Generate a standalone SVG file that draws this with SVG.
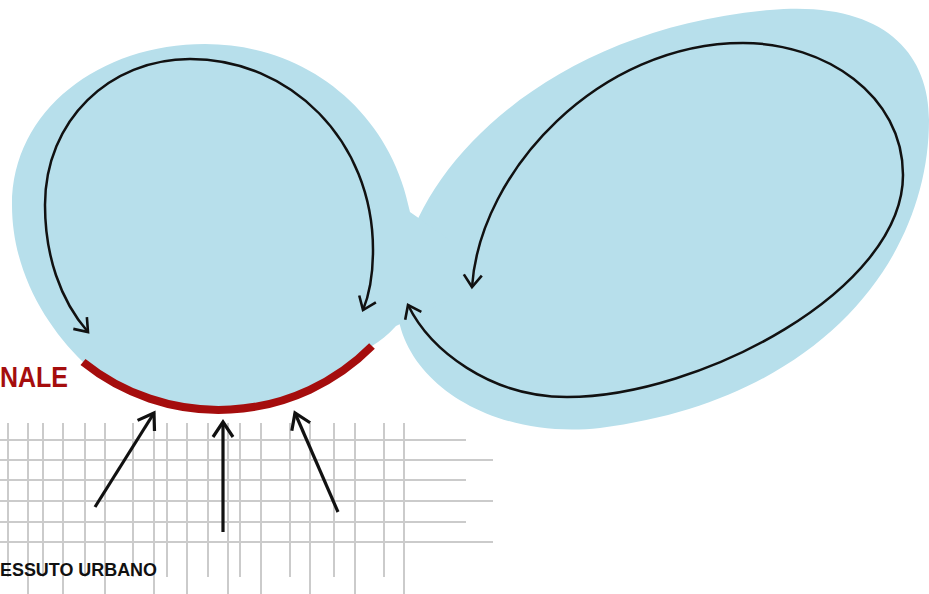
<svg xmlns="http://www.w3.org/2000/svg" width="929" height="594" viewBox="0 0 929 594">
<style>
.blob{fill:#b7dfeb;stroke:none}
.grid line{stroke:#cbcbcb;stroke-width:2}
.loop{fill:none;stroke:#111;stroke-width:2.5;marker-start:url(#ah);marker-end:url(#ah)}
.push{fill:none;stroke:#111;stroke-width:3.2;marker-end:url(#ah2)}
.lbl{font-family:"Liberation Sans",Arial,sans-serif;font-weight:bold}
</style>
<defs>
<marker id="ah" viewBox="-16 -16 32 32" markerWidth="32" markerHeight="32" refX="0" refY="0" orient="auto-start-reverse" markerUnits="userSpaceOnUse">
<path d="M-12,-9 L0,0 L-12,9" fill="none" stroke="#111" stroke-width="2.6" stroke-linejoin="miter"/>
</marker>
<marker id="ah2" viewBox="-20 -20 40 40" markerWidth="40" markerHeight="40" refX="0" refY="0" orient="auto" markerUnits="userSpaceOnUse">
<path d="M-15,-10 L0,0 L-15,10" fill="none" stroke="#111" stroke-width="3.2"/>
</marker>
</defs>
<rect width="929" height="594" fill="#ffffff"/>
<g id="grid" class="grid">
<line x1="0" y1="440" x2="466" y2="440"/>
<line x1="0" y1="460" x2="493" y2="460"/>
<line x1="0" y1="480" x2="466" y2="480"/>
<line x1="0" y1="501" x2="493" y2="501"/>
<line x1="0" y1="522" x2="466" y2="522"/>
<line x1="0" y1="542" x2="493" y2="542"/>
<line x1="8" y1="423" x2="8" y2="577"/>
<line x1="28" y1="423" x2="28" y2="594"/>
<line x1="43" y1="423" x2="43" y2="577"/>
<line x1="63" y1="423" x2="63" y2="594"/>
<line x1="85" y1="423" x2="85" y2="577"/>
<line x1="105" y1="423" x2="105" y2="594"/>
<line x1="133" y1="423" x2="133" y2="577"/>
<line x1="154" y1="423" x2="154" y2="594"/>
<line x1="167" y1="423" x2="167" y2="577"/>
<line x1="187" y1="423" x2="187" y2="594"/>
<line x1="208" y1="423" x2="208" y2="577"/>
<line x1="228" y1="423" x2="228" y2="594"/>
<line x1="240" y1="423" x2="240" y2="577"/>
<line x1="261" y1="423" x2="261" y2="594"/>
<line x1="290" y1="423" x2="290" y2="577"/>
<line x1="310" y1="423" x2="310" y2="594"/>
<line x1="334" y1="423" x2="334" y2="577"/>
<line x1="355" y1="423" x2="355" y2="594"/>
<line x1="384" y1="423" x2="384" y2="577"/>
<line x1="404" y1="423" x2="404" y2="594"/>
</g>
<g id="right-blob">
<path class="blob" d="M397,305 C397,180 540,30 770,10 C880,0 929,50 929,120 C929,260 820,400 600,428 C490,440 400,380 397,305 Z"/>
</g>
<g id="left-blob">
<path class="blob" d="M83,362 C45,325 12,270 12,205 C12,110 100,44 205,44 C305,44 390,110 410,212 L450,240 L450,300 L396,326 C388,335 380,341 372,346 A216,216 0 0 1 83,362 Z"/>
</g>
<g id="edge">
<path d="M83,362 A216,216 0 0 0 372,346" fill="none" stroke="#a50d0d" stroke-width="8"/>
<text class="lbl" x="0" y="387" font-size="30" fill="#a50d0d" textLength="68" lengthAdjust="spacingAndGlyphs">NALE</text>
</g>
<g id="tessuto">
<text class="lbl" x="0" y="576" font-size="19" fill="#111" textLength="157" lengthAdjust="spacingAndGlyphs">ESSUTO URBANO</text>
</g>
<g id="connectors">
<path class="loop" d="M88,332 C60,300 45,255 45,205 C45,120 110,59 190,59 C290,59 373,140 373,250 C373,275 370,293 363,310"/>
<path class="loop" d="M472,287 C480,170 600,43 743,43 C825,43 903,95 903,175 C903,290 700,397 567,397 C490,397 430,350 408,305"/>
<path class="push" d="M95,507 L154,413"/>
<path class="push" d="M223,532 L223,422"/>
<path class="push" d="M338,512 L295,413"/>
</g>
</svg>
